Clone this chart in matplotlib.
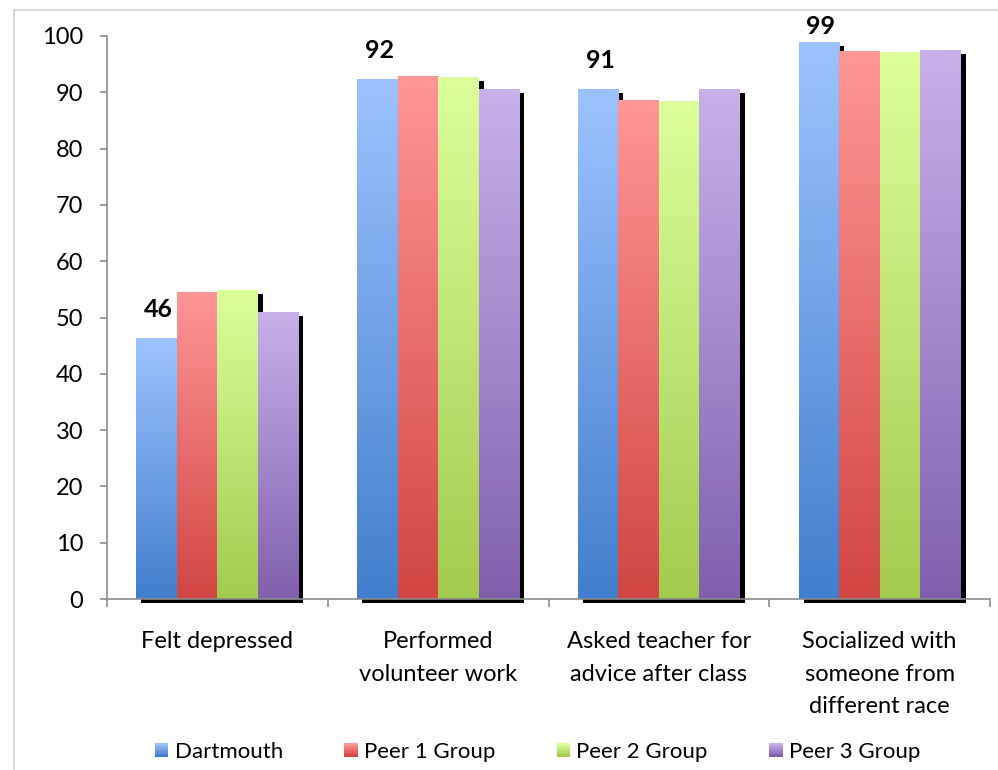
import matplotlib
matplotlib.use("Agg")
import matplotlib.pyplot as plt
import numpy as np
from matplotlib.patches import Rectangle
from matplotlib.lines import Line2D
from matplotlib.transforms import ScaledTranslation
from matplotlib.colors import LinearSegmentedColormap, to_rgb
from matplotlib.legend_handler import HandlerBase

plt.rcParams["font.family"] = ["Lato", "DejaVu Sans"]

categories = ["Felt depressed", "Performed\nvolunteer work",
              "Asked teacher for\nadvice after class",
              "Socialized with\nsomeone from\ndifferent race"]
series_names = ["Dartmouth", "Peer 1 Group", "Peer 2 Group", "Peer 3 Group"]
dartmouth = [46.4, 92.4, 90.6, 98.9]
peer1 = [54.6, 92.9, 88.6, 97.3]
peer2 = [54.9, 92.7, 88.5, 97.2]
peer3 = [51.0, 90.6, 90.6, 97.5]
y_ticks = list(range(0, 101, 10))

series = [dartmouth, peer1, peer2, peer3]
top_colors = ["#9dc3ff", "#ff9696", "#dcff9b", "#c8b0eb"]
bottom_colors = ["#427ecd", "#d14542", "#a2cb4e", "#8060ad"]
axis_gray = "#8c8c8c"

W, H = 998, 770
fig = plt.figure(figsize=(W / 100, H / 100), dpi=100)
ax = fig.add_axes([107 / W, 171 / H, 883 / W, 563 / H])

x = np.arange(len(categories))
bw = 0.1835
shadow_tr = ax.transData + ScaledTranslation(5 / 100, -4 / 100, fig.dpi_scale_trans)

# drop shadows behind every bar
for i, vals in enumerate(series):
    ax.bar(x + (i - 1.5) * bw, vals, bw, color="black", linewidth=0,
           transform=shadow_tr, zorder=1, clip_on=False)

# gradient-filled bars
grad = np.linspace(0, 1, 256).reshape(-1, 1)
for i, vals in enumerate(series):
    cmap = LinearSegmentedColormap.from_list(
        f"g{i}", [to_rgb(bottom_colors[i]), to_rgb(top_colors[i])])
    bars = ax.bar(x + (i - 1.5) * bw, vals, bw, color="none", linewidth=0, zorder=2)
    for p in bars:
        x0, y0 = p.get_x(), p.get_y()
        im = ax.imshow(grad, cmap=cmap, origin="lower", aspect="auto",
                       extent=[x0, x0 + p.get_width(), y0, y0 + p.get_height()],
                       zorder=2, interpolation="bilinear")
        im.set_clip_path(p)

ax.set_xlim(-0.5, len(categories) - 0.5)
ax.set_ylim(0, 100)

# value labels on the Dartmouth bars, kept inside the chart area
fig.canvas.draw()
for xi, v in zip(x, dartmouth):
    ydisp = ax.transData.transform((0, v))[1]
    off = min(28, (H - 27) - ydisp)
    ax.annotate(f"{v:.0f}", xy=(xi - 1.5 * bw, v), xytext=(2, off),
                textcoords="offset pixels", ha="center", va="center",
                fontsize=18, fontweight="bold", zorder=5, annotation_clip=False)

for s in ["top", "right"]:
    ax.spines[s].set_visible(False)
for s in ["left", "bottom"]:
    ax.spines[s].set_color(axis_gray)
    ax.spines[s].set_linewidth(1.2)
    ax.spines[s].set_zorder(3)

ax.set_yticks(y_ticks)
ax.tick_params(axis="y", length=5, width=1.2, color=axis_gray, labelsize=17, pad=12)
ax.set_xticks(np.arange(len(categories) + 1) - 0.5)
ax.set_xticklabels([])
ax.set_xticks(x, minor=True)
ax.set_xticklabels(categories, minor=True, fontsize=17, linespacing=1.68)
ax.tick_params(axis="x", which="major", length=6, width=1.2, color=axis_gray)
ax.tick_params(axis="x", which="minor", length=0, pad=23)


class GradientHandler(HandlerBase):
    def __init__(self, top, bottom, n=10):
        super().__init__()
        self.top, self.bottom, self.n = to_rgb(top), to_rgb(bottom), n

    def create_artists(self, legend, orig_handle, xdescent, ydescent,
                       width, height, fontsize, trans):
        s = height
        x0 = -xdescent + (width - s) / 2
        y0 = -ydescent
        arts = []
        for k in range(self.n):
            t = k / (self.n - 1)
            c = tuple(b + (tp - b) * t for b, tp in zip(self.bottom, self.top))
            r = Rectangle((x0, y0 + k * s / self.n), s, s / self.n + 0.3,
                          facecolor=c, edgecolor="none", transform=trans)
            arts.append(r)
        return arts


handles = [Rectangle((0, 0), 1, 1) for _ in series_names]
hmap = {h: GradientHandler(t, b) for h, t, b in zip(handles, top_colors, bottom_colors)}
fig.legend(handles, series_names, handler_map=hmap, loc="center",
           bbox_to_anchor=(0.539, 18 / H), ncol=4, frameon=False, fontsize=16,
           handlelength=0.55, handleheight=0.55, handletextpad=0.3,
           columnspacing=2.8)

# chart-area border
fig.add_artist(Line2D([14 / W, 14 / W], [0, 1 - 10 / H], transform=fig.transFigure,
                      color="#d9d9d9", lw=1.5))
fig.add_artist(Line2D([14 / W, 1], [1 - 10 / H, 1 - 10 / H], transform=fig.transFigure,
                      color="#d9d9d9", lw=1.5))

fig.savefig("out.png", dpi=100)
